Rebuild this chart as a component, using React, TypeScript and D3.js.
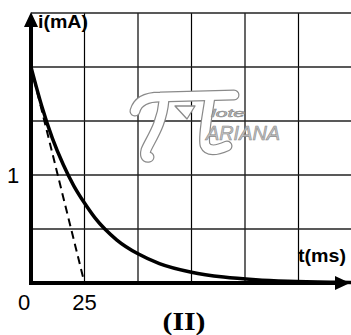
import React from "react";
import * as d3 from "d3";

const xGridTicks = [25, 50, 75, 100, 125];
const yGridTicks = [0.5, 1, 1.5, 2, 2.5];
const curveT = [0, 5, 10, 15, 20, 25, 30, 40, 50, 60, 75, 90, 105, 120, 140, 150];
const curveI = [2, 1.64, 1.34, 1.1, 0.9, 0.74, 0.6, 0.4, 0.27, 0.18, 0.1, 0.055, 0.03, 0.016, 0.007, 0.005];
const tangentT = [0, 25];
const tangentI = [2, 0];
const xTickLabels = [
  { v: 0, label: "0" },
  { v: 25, label: "25" },
];
const yTickLabels = [{ v: 1, label: "1" }];

export default function App() {
  const W = 351, H = 335;
  const x = d3.scaleLinear().domain([0, 25]).range([31, 84.5]);
  const y = d3.scaleLinear().domain([0, 1]).range([283, 175]);
  const line = d3
    .line<number>()
    .x((_, i) => x(curveT[i]))
    .y((d) => y(d))
    .curve(d3.curveMonotoneX);
  const tangent = d3
    .line<number>()
    .x((_, i) => x(tangentT[i]))
    .y((d) => y(d));
  const x0 = x(0), y0 = y(0);
  const gray = "#8a8a8a";
  const logoPaths = [
    "M135,111 C138,100 148,97 160,97 L234,95",
    "M164,100 C162,125 150,140 146,150 Q144,158 149,157",
    "M210,97 C207,118 203,135 205,145 Q209,154 227,146",
  ];
  return (
    <svg
      width={W}
      height={H}
      style={{ position: "absolute", left: 0, top: 0, background: "#fff" }}
      fontFamily="Liberation Sans, Arial, sans-serif"
    >
      <rect width={W} height={H} fill="#fff" />
      {/* grid */}
      {xGridTicks.map((t) => (
        <line key={"gx" + t} x1={x(t)} x2={x(t)} y1={y(2.5)} y2={y0} stroke="#000" strokeWidth={1.2} />
      ))}
      {yGridTicks.map((v) => (
        <line key={"gy" + v} x1={x0} x2={W} y1={y(v)} y2={y(v)} stroke="#222" strokeWidth={1.3} />
      ))}
      {/* watermark */}
      <g fill="none" strokeLinecap="round" strokeLinejoin="round">
        {logoPaths.map((p, i) => (
          <path key={"o" + i} d={p} stroke={gray} strokeWidth={11} />
        ))}
        {logoPaths.map((p, i) => (
          <path key={"i" + i} d={p} stroke="#fff" strokeWidth={8.6} />
        ))}
        <path d="M175,106 L195,106 L187,119 Z" fill="#fff" stroke={gray} strokeWidth={1.3} />
      </g>
      <text x={211} y={117} fontSize={11} fontStyle="italic" fill="#c4c4c4" stroke={gray} strokeWidth={0.5} textLength={34} lengthAdjust="spacingAndGlyphs">
        lote
      </text>
      <text x={206} y={140} fontSize={20} fontStyle="italic" fill="#c4c4c4" stroke={gray} strokeWidth={0.6} textLength={74} lengthAdjust="spacingAndGlyphs">
        ARIANA
      </text>
      {/* curve */}
      <path d={line(curveI) || ""} fill="none" stroke="#000" strokeWidth={3.5} />
      <path d={tangent(tangentI) || ""} fill="none" stroke="#000" strokeWidth={2} strokeDasharray="8,5" />
      {/* axes */}
      <line x1={x0} x2={W - 14} y1={y0} y2={y0} stroke="#000" strokeWidth={4} />
      <path d={`M${W - 16},${y0 - 7} L${W - 1},${y0} L${W - 16},${y0 + 7} Z`} fill="#000" />
      <line x1={x0} x2={x0} y1={y0 + 2} y2={24} stroke="#000" strokeWidth={4} />
      <path d={`M${x0 - 7},${27} L${x0},${12} L${x0 + 7},${27} Z`} fill="#000" />
      {/* labels */}
      <text x={38} y={28} fontSize={18} fontWeight="bold" textLength={50} lengthAdjust="spacingAndGlyphs">i(mA)</text>
      <text x={298} y={262} fontSize={18} fontWeight="bold" textLength={48} lengthAdjust="spacingAndGlyphs">t(ms)</text>
      {xTickLabels.map((d) => (
        <text key={"xt" + d.v} x={d.v === 0 ? 24 : x(d.v)} y={310} fontSize={22} textAnchor="middle">
          {d.label}
        </text>
      ))}
      {yTickLabels.map((d) => (
        <text key={"yt" + d.v} x={13} y={y(d.v) + 8} fontSize={22} textAnchor="middle">
          {d.label}
        </text>
      ))}
      <text x={184} y={330} fontSize={26} fontWeight="bold" textAnchor="middle" fontFamily="Liberation Serif, Times New Roman, serif" textLength={43} lengthAdjust="spacingAndGlyphs">
        (II)
      </text>
    </svg>
  );
}
